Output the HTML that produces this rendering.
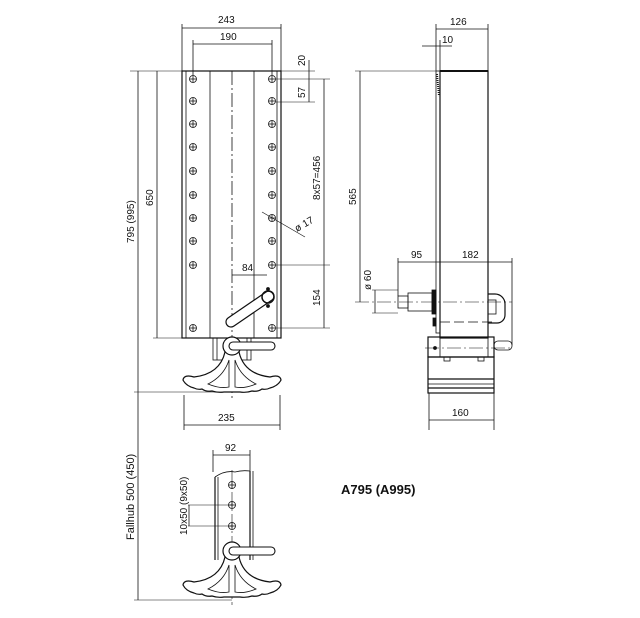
<!DOCTYPE html>
<html><head><style>body{margin:0;background:#fff}svg{display:block}text{font-family:"Liberation Sans",sans-serif;font-size:10px;fill:#111;stroke:none}</style></head><body>
<svg width="640" height="618" viewBox="0 0 640 618" xmlns="http://www.w3.org/2000/svg" stroke="#111" fill="none" stroke-width="0.8">
<defs>
<g id="h"><circle r="3.5"/><line x1="-3.5" x2="3.5" y1="0" y2="0"/><line y1="-3.5" y2="3.5" x1="0" x2="0"/></g>
<g id="foot">
<path d="M-7 6 Q-12 28 -38 31 Q-48 28 -49 34 Q-46 40 -38 42 Q-34 44 -30 43 Q-26 46 -20 45 Q-14 47 -8 46 L8 46 Q14 47 20 45 Q26 46 30 43 Q34 44 38 42 Q46 40 49 34 Q48 28 38 31 Q12 28 7 6 Z" stroke-width="1.2" fill="#fff"/>
<path d="M-3 14 Q-8 30 -24 38 Q-12 43 -3 41 Z"/><path d="M3 14 Q8 30 24 38 Q12 43 3 41 Z"/>
<circle r="9" fill="#fff" stroke-width="1.2"/>
</g>
</defs>
<!-- front view -->
<rect x="182" y="71" width="99" height="267" stroke-width="1.2"/>
<line x1="186" y1="71" x2="186" y2="338"/><line x1="277" y1="71" x2="277" y2="338"/>
<line x1="210" y1="71" x2="210" y2="338"/><line x1="254" y1="71" x2="254" y2="338"/>
<line x1="232" y1="71" x2="232" y2="400" stroke-dasharray="14 3 2 3"/>
<g>
<use href="#h" x="193" y="79"/><use href="#h" x="193" y="101"/><use href="#h" x="193" y="124"/><use href="#h" x="193" y="147"/><use href="#h" x="193" y="171"/><use href="#h" x="193" y="195"/><use href="#h" x="193" y="218"/><use href="#h" x="193" y="241"/><use href="#h" x="193" y="265"/><use href="#h" x="193" y="328"/>
<use href="#h" x="272" y="79"/><use href="#h" x="272" y="101"/><use href="#h" x="272" y="124"/><use href="#h" x="272" y="147"/><use href="#h" x="272" y="171"/><use href="#h" x="272" y="195"/><use href="#h" x="272" y="218"/><use href="#h" x="272" y="241"/><use href="#h" x="272" y="265"/><use href="#h" x="272" y="328"/>
</g>
<!-- crank -->
<path d="M228 318 L266 292 A5 5 0 0 1 272 300 L234 326 A4 4 0 0 1 228 318 Z" stroke-width="1.2" fill="#fff"/>
<circle cx="268" cy="297" r="6" stroke-width="1.5"/>
<circle cx="268" cy="289" r="1.5" fill="#111"/><circle cx="268" cy="306" r="1.5" fill="#111"/>
<!-- foot front -->
<rect x="213" y="338" width="38" height="22"/>
<line x1="217" y1="338" x2="217" y2="360"/><line x1="247" y1="338" x2="247" y2="360"/>
<use href="#foot" x="232" y="346"/>
<rect x="229" y="342" width="46" height="8" rx="4" fill="#fff" stroke-width="1.1"/>
<!-- front dims -->
<line x1="182" y1="24" x2="182" y2="71"/><line x1="281" y1="24" x2="281" y2="71"/>
<line x1="182" y1="28" x2="281" y2="28"/><text x="218" y="23">243</text>
<line x1="193" y1="40" x2="193" y2="75"/><line x1="272" y1="40" x2="272" y2="75"/>
<line x1="193" y1="44" x2="272" y2="44"/><text x="220" y="40">190</text>
<line x1="130" y1="71" x2="315" y2="71" stroke-width="0.5"/>
<line x1="276" y1="79" x2="330" y2="79" stroke-width="0.5"/><line x1="276" y1="102" x2="315" y2="102" stroke-width="0.5"/>
<line x1="309" y1="60" x2="309" y2="102"/>
<text transform="translate(305,66) rotate(-90)">20</text><text transform="translate(305,98) rotate(-90)">57</text>
<line x1="324" y1="79" x2="324" y2="328"/>
<line x1="276" y1="265" x2="330" y2="265" stroke-width="0.5"/><line x1="276" y1="328" x2="330" y2="328" stroke-width="0.5"/>
<text transform="translate(320,200) rotate(-90)">8x57=456</text>
<text transform="translate(320,306) rotate(-90)">154</text>
<line x1="232" y1="275" x2="267" y2="275"/><text x="242" y="271">84</text>
<line x1="262" y1="212" x2="305" y2="237" stroke-width="0.6"/><text transform="translate(297,232) rotate(-30)">ø 17</text>
<line x1="157" y1="71" x2="157" y2="338"/><line x1="153" y1="338" x2="210" y2="338" stroke-width="0.5"/>
<text transform="translate(153,206) rotate(-90)">650</text>
<line x1="138" y1="71" x2="138" y2="600"/>
<text transform="translate(134,243) rotate(-90)">795 (995)</text>
<line x1="134" y1="392" x2="232" y2="392" stroke-width="0.5"/>
<line x1="184" y1="395" x2="184" y2="430"/><line x1="280" y1="395" x2="280" y2="430"/>
<line x1="184" y1="425" x2="280" y2="425"/><text x="218" y="421">235</text>
<!-- side view -->
<rect x="440" y="71" width="48" height="267" stroke-width="1.2"/>
<line x1="440" y1="71" x2="488" y2="71" stroke-width="2"/>
<rect x="436" y="71" width="4" height="262"/>
<line x1="437" y1="74" x2="439" y2="96" stroke-dasharray="1 1" stroke-width="2"/>
<line x1="436" y1="24" x2="436" y2="71"/><line x1="488" y1="24" x2="488" y2="71"/>
<line x1="436" y1="29" x2="488" y2="29"/><text x="450" y="25">126</text>
<line x1="422" y1="46" x2="452" y2="46"/><line x1="440" y1="40" x2="440" y2="71"/><text x="442" y="43">10</text>
<line x1="355" y1="71" x2="436" y2="71" stroke-width="0.5"/>
<line x1="360" y1="71" x2="360" y2="302"/><text transform="translate(356,205) rotate(-90)">565</text>
<line x1="355" y1="302" x2="512" y2="302" stroke-dasharray="14 3 2 3" stroke-width="0.6"/>
<line x1="398" y1="258" x2="398" y2="296"/><line x1="512" y1="258" x2="512" y2="345"/>
<line x1="398" y1="262" x2="512" y2="262"/><text x="411" y="258">95</text><text x="462" y="258">182</text>
<line x1="375" y1="290" x2="375" y2="313"/><line x1="372" y1="290" x2="398" y2="290" stroke-width="0.5"/><line x1="372" y1="313" x2="398" y2="313" stroke-width="0.5"/>
<text transform="translate(371,290) rotate(-90)">ø 60</text>
<rect x="398" y="296" width="10" height="12"/><rect x="408" y="293" width="24" height="18"/><rect x="432" y="290" width="4" height="24" fill="#111"/>
<rect x="433" y="318" width="3" height="8" fill="#111"/>
<path d="M488 294 L495 294 A10 10 0 0 1 505 304 L505 315 A8 8 0 0 1 497 323 L488 323" stroke-width="1.2"/>
<rect x="488" y="300" width="8" height="14"/>
<line x1="440" y1="322" x2="496" y2="322" stroke-dasharray="10 4"/>
<rect x="428" y="337" width="66" height="20" stroke-width="1.2"/>
<rect x="440" y="337" width="48" height="20"/>
<rect x="444" y="357" width="6" height="4"/><rect x="478" y="357" width="6" height="4"/>
<rect x="494" y="341" width="18" height="9" rx="4"/>
<circle cx="435" cy="348" r="1.5" fill="#111"/>
<line x1="425" y1="348" x2="512" y2="348" stroke-dasharray="14 3 2 3" stroke-width="0.6"/>
<rect x="428" y="357" width="66" height="36" stroke-width="1.2"/>
<line x1="428" y1="379" x2="494" y2="379" stroke-width="1.2"/><line x1="428" y1="384" x2="494" y2="384"/><line x1="428" y1="388" x2="494" y2="388" stroke-width="1.2"/>
<line x1="429" y1="393" x2="429" y2="430"/><line x1="494" y1="393" x2="494" y2="430"/>
<line x1="429" y1="420" x2="494" y2="420"/><text x="452" y="416">160</text>
<!-- bottom view -->
<line x1="213" y1="450" x2="213" y2="472"/><line x1="250" y1="450" x2="250" y2="472"/>
<line x1="213" y1="455" x2="250" y2="455"/><text x="225" y="451">92</text>
<path d="M215 477 Q225 470 235 472 Q242 470 250 471" />
<line x1="215" y1="477" x2="215" y2="560" stroke-width="1.2"/><line x1="218" y1="477" x2="218" y2="560"/>
<line x1="250" y1="471" x2="250" y2="560" stroke-width="1.2"/><line x1="253" y1="471" x2="253" y2="560"/>
<use href="#h" x="232" y="485"/><use href="#h" x="232" y="505"/><use href="#h" x="232" y="526"/>
<line x1="188" y1="505" x2="232" y2="505" stroke-width="0.6"/><line x1="188" y1="526" x2="232" y2="526" stroke-width="0.6"/>
<line x1="189" y1="505" x2="189" y2="526"/>
<text transform="translate(187,535) rotate(-90)">10x50 (9x50)</text>
<line x1="232" y1="470" x2="232" y2="605" stroke-dasharray="14 3 2 3" stroke-width="0.6"/>
<use href="#foot" x="232" y="551"/>
<rect x="229" y="547" width="46" height="8" rx="4" fill="#fff" stroke-width="1.1"/>
<line x1="134" y1="600" x2="232" y2="600" stroke-width="0.5"/>
<text transform="translate(134,540) rotate(-90)" style="font-size:11px">Fallhub 500 (450)</text>
<text x="341" y="494" style="font-size:13px;font-weight:bold">A795 (A995)</text>
</svg>
</body></html>
